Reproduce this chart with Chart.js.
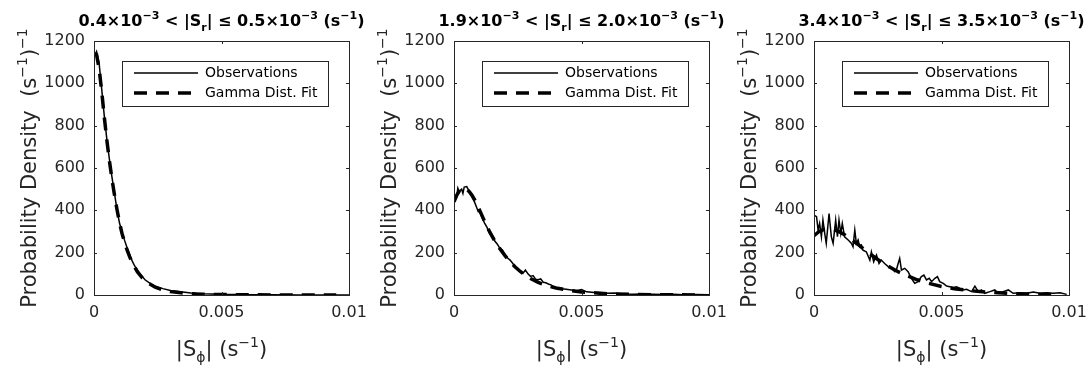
<!DOCTYPE html>
<html lang="en">
<head>
  <meta charset="UTF-8">
  <title>Probability density of |S_phi| in three |S_r| bins</title>
  <script src="https://cdn.jsdelivr.net/npm/chart.js"></script>
  <style>
    body { margin: 0; background: #fff; }
    #wrap { position: relative; width: 1091px; height: 374px; background: #fff; overflow: hidden; }
    #wrap canvas { position: absolute; top: 0; }
  </style>
</head>
<body>
  <div id="wrap">
    <canvas id="panel0" width="380" height="374" style="left:0px"></canvas>
    <canvas id="panel1" width="380" height="374" style="left:360px"></canvas>
    <canvas id="panel2" width="371" height="374" style="left:720px"></canvas>
  </div>

  <script>
    // bin limits for the panel titles (x10^-3 s^-1)
    const binLow = ['0.4', '1.9', '3.4'];
    const binHigh = ['0.5', '2.0', '3.5'];
    const seriesNames = ['Observations', 'Gamma Dist. Fit'];

    const xTicks = [0, 0.005, 0.01];
    const yTicks = [0, 200, 400, 600, 800, 1000, 1200];

    // panel 1
    const p1ObsX = [0, 0.0001, 0.0002, 0.0003, 0.0004, 0.0005, 0.0006, 0.0007, 0.0008, 0.0009, 0.001, 0.0011, 0.0012, 0.0013, 0.0014, 0.0015, 0.0016, 0.0017, 0.0018, 0.002, 0.0022, 0.0024, 0.0027, 0.003, 0.0034, 0.0038, 0.0043, 0.005, 0.006, 0.007, 0.008, 0.009, 0.01];
    const p1ObsY = [1125, 1150, 1095, 975, 850, 740, 645, 560, 482, 405, 340, 298, 258, 222, 190, 160, 136, 117, 100, 72, 55, 42, 30, 21, 15, 10, 6, 3, 1.5, 1, 0.5, 0.3, 0.2];
    const p1FitX = [0, 0.0001, 0.0002, 0.0003, 0.0004, 0.0005, 0.0006, 0.0007, 0.0008, 0.0009, 0.001, 0.0011, 0.0012, 0.0013, 0.0014, 0.0015, 0.0017, 0.0019, 0.0021, 0.0024, 0.0027, 0.003, 0.0035, 0.004, 0.005, 0.006, 0.007, 0.008, 0.0095];
    const p1FitY = [1140, 1135, 1070, 965, 845, 735, 638, 552, 475, 405, 342, 290, 248, 212, 180, 153, 110, 80, 58, 37, 24, 16, 9, 5, 2, 1, 0.5, 0.3, 0.1];

    // panel 2
    const p2ObsX = [0, 0.0001, 0.00015, 0.0002, 0.0003, 0.00035, 0.0004, 0.0005, 0.00055, 0.0006, 0.0007, 0.0008, 0.0009, 0.00095, 0.001,
      0.0011, 0.0012, 0.0013, 0.0014, 0.0015, 0.0016, 0.0017, 0.0018, 0.0019, 0.002, 0.0021, 0.0022, 0.0023, 0.0024, 0.0025,
      0.0026, 0.0027, 0.0028, 0.0029, 0.003, 0.0031, 0.0032, 0.0033, 0.0034, 0.0035, 0.0036, 0.0037, 0.0038, 0.0039, 0.004,
      0.0042, 0.0044, 0.0046, 0.0048, 0.005, 0.0052, 0.0055, 0.0058, 0.006, 0.0063, 0.0066, 0.007, 0.0074, 0.0078, 0.0082, 0.0086, 0.009, 0.0095, 0.01];
    const p2ObsY = [440, 460, 505, 490, 500, 480, 510, 512, 500, 488, 464, 441, 410, 394, 395,
      365, 340, 318, 290, 275, 255, 240, 220, 212, 190, 175, 165, 150, 132, 126,
      112, 102, 118, 100, 88, 92, 75, 72, 76, 60, 58, 52, 48, 40, 36,
      30, 27, 24, 20, 26, 15, 12, 10, 8, 9, 5, 4, 5, 3, 2, 3, 1, 2, 1];
    const p2FitX = [0, 0.0001, 0.0002, 0.0003, 0.0004, 0.0005, 0.0006, 0.0007, 0.0008, 0.001, 0.0012, 0.0014, 0.0016, 0.0018, 0.002, 0.0022, 0.0024, 0.0026, 0.0028, 0.003, 0.0033, 0.0036, 0.004, 0.0045, 0.005, 0.006, 0.007, 0.008, 0.0095];
    const p2FitY = [440, 470, 490, 502, 505, 500, 488, 472, 452, 402, 348, 298, 255, 218, 186, 157, 132, 111, 93, 78, 60, 46, 33, 22, 14, 6, 3, 1.2, 0.4];

    // panel 3
    const p3ObsX = [0, 0.0001, 0.00016, 0.00022, 0.00029, 0.00035, 0.00042, 0.00048, 0.00059, 0.00068,
      0.00075, 0.00085, 0.00092, 0.00098, 0.00105, 0.00111, 0.0012, 0.00134, 0.00147, 0.00153,
      0.0016, 0.00166, 0.00173, 0.00179, 0.00186, 0.00192, 0.00205, 0.00219, 0.00225, 0.00234,
      0.00245, 0.00255, 0.00264, 0.00277, 0.00291, 0.00304, 0.00317, 0.00323, 0.0033, 0.00336,
      0.00343, 0.00356, 0.00369, 0.00382, 0.00395, 0.00408, 0.00421, 0.00431, 0.00441, 0.00452,
      0.00461, 0.00474, 0.00484, 0.00493, 0.00507, 0.0052, 0.00533, 0.00546, 0.00559, 0.00572,
      0.00585, 0.00598, 0.00618, 0.00631, 0.00644, 0.00657, 0.0067, 0.0069, 0.00709, 0.00723,
      0.00742, 0.00762, 0.00781, 0.00808, 0.00834, 0.0086, 0.00886, 0.00912, 0.00938, 0.00965, 0.00991];
    const p3ObsY = [377, 370, 307, 338, 275, 354, 291, 244, 385, 275,
      244, 354, 275, 354, 291, 338, 275, 260, 244, 228,
      307, 244, 260, 228, 236, 212, 204, 165, 204, 157,
      189, 149, 165, 149, 134, 126, 110, 118, 149, 173,
      118, 126, 110, 79, 55, 63, 87, 94, 71, 79,
      63, 79, 87, 63, 55, 42, 39, 36, 39, 31,
      24, 27, 16, 42, 16, 24, 8, 16, 24, 8,
      16, 24, 8, 11, 8, 14, 8, 11, 8, 11, 3];
    const p3FitX = [0, 0.0002, 0.0004, 0.0006, 0.0008, 0.001, 0.0012, 0.0014, 0.0016, 0.0018, 0.002, 0.0022, 0.0024, 0.0026, 0.0028, 0.003, 0.0033, 0.0036, 0.004, 0.0045, 0.005, 0.0055, 0.006, 0.0065, 0.007, 0.008, 0.009, 0.0095];
    const p3FitY = [280, 300, 310, 312, 308, 298, 285, 268, 250, 232, 212, 194, 176, 160, 144, 130, 110, 94, 74, 55, 40, 30, 22, 16, 12, 6, 3, 2];

    const panels = [
      { obsX: p1ObsX, obsY: p1ObsY, fitX: p1FitX, fitY: p1FitY },
      { obsX: p2ObsX, obsY: p2ObsY, fitX: p2FitX, fitY: p2FitY },
      { obsX: p3ObsX, obsY: p3ObsY, fitX: p3FitX, fitY: p3FitY }
    ];

    const FONT = "'DejaVu Sans', sans-serif";
    const INK = '#262626';

    function toPoints(xs, ys) {
      return xs.map((x, i) => ({ x: x, y: ys[i] }));
    }

    // text with superscripts / subscripts: parts = [[text, ''|'sup'|'sub'], ...]
    function richFont(mode, size, weight) {
      const s = mode ? Math.round(size * 0.68) : size;
      return weight + ' ' + s + 'px ' + FONT;
    }
    function drawRich(ctx, parts, cx, baseY, size, weight) {
      let total = 0;
      parts.forEach(p => {
        ctx.font = richFont(p[1], size, weight);
        total += ctx.measureText(p[0]).width;
      });
      let x = cx - total / 2;
      ctx.textAlign = 'left';
      ctx.textBaseline = 'alphabetic';
      parts.forEach(p => {
        ctx.font = richFont(p[1], size, weight);
        let dy = 0;
        if (p[1] === 'sup') dy = -size * 0.45;
        if (p[1] === 'sub') dy = size * 0.3;
        ctx.fillText(p[0], x, baseY + dy);
        x += ctx.measureText(p[0]).width;
      });
    }

    const matlabFrame = {
      id: 'matlabFrame',
      afterDatasetsDraw(chart) {
        const { ctx, chartArea: a, scales } = chart;
        ctx.save();
        ctx.strokeStyle = INK;
        ctx.lineWidth = 1;
        ctx.strokeRect(Math.round(a.left) + 0.5, Math.round(a.top) + 0.5, Math.round(a.right - a.left), Math.round(a.bottom - a.top));
        ctx.beginPath();
        scales.y.ticks.forEach(t => {
          const py = Math.round(scales.y.getPixelForValue(t.value)) + 0.5;
          ctx.moveTo(a.left, py); ctx.lineTo(a.left + 3, py);
          ctx.moveTo(a.right, py); ctx.lineTo(a.right - 3, py);
        });
        scales.x.ticks.forEach(t => {
          const px = Math.round(scales.x.getPixelForValue(t.value)) + 0.5;
          ctx.moveTo(px, a.bottom); ctx.lineTo(px, a.bottom - 3);
          ctx.moveTo(px, a.top); ctx.lineTo(px, a.top + 3);
        });
        ctx.stroke();
        ctx.restore();
      },
      afterDraw(chart, args, opts) {
        const { ctx, chartArea: a } = chart;
        const cx = (a.left + a.right) / 2;
        ctx.save();
        ctx.fillStyle = '#000';

        // panel title
        const k = opts.panel;
        drawRich(ctx, [
          [binLow[k] + '×10', ''], ['−3', 'sup'], [' < |S', ''], ['r', 'sub'],
          ['| ≤ ' + binHigh[k] + '×10', ''], ['−3', 'sup'], [' (s', ''], ['−1', 'sup'], [')', '']
        ], cx, 26, 16, 'bold');

        // x axis title
        ctx.fillStyle = INK;
        drawRich(ctx, [['|S', ''], ['ϕ', 'sub'], ['| (s', ''], ['−1', 'sup'], [')', '']], cx, 356, 21, 'normal');

        // y axis title
        ctx.save();
        ctx.translate(a.left - 66, (a.top + a.bottom) / 2);
        ctx.rotate(-Math.PI / 2);
        drawRich(ctx, [['Probability Density  (s', ''], ['−1', 'sup'], [')', ''], ['−1', 'sup']], 0, 8, 21, 'normal');
        ctx.restore();

        // legend box
        const bx = a.left + 28, by = a.top + 20;
        ctx.fillStyle = '#fff';
        ctx.fillRect(bx, by, 206, 45);
        ctx.strokeStyle = INK;
        ctx.lineWidth = 1;
        ctx.strokeRect(Math.round(bx) + 0.5, Math.round(by) + 0.5, 206, 45);
        chart.data.datasets.forEach((ds, i) => {
          const ly = by + 12 + i * 20;
          ctx.beginPath();
          ctx.strokeStyle = '#000';
          ctx.lineWidth = ds.borderWidth;
          ctx.setLineDash(ds.borderDash || []);
          ctx.moveTo(bx + 12, ly);
          ctx.lineTo(bx + 76, ly);
          ctx.stroke();
          ctx.setLineDash([]);
          ctx.fillStyle = '#000';
          ctx.font = '14px ' + FONT;
          ctx.textAlign = 'left';
          ctx.textBaseline = 'middle';
          ctx.fillText(ds.label, bx + 83, ly);
        });
        ctx.restore();
      }
    };

    panels.forEach((p, k) => {
      const canvas = document.getElementById('panel' + k);
      new Chart(canvas.getContext('2d'), {
        type: 'line',
        data: {
          datasets: [
            {
              label: seriesNames[0],
              data: toPoints(p.obsX, p.obsY),
              borderColor: '#000',
              borderWidth: 1.5,
              pointRadius: 0,
              tension: 0
            },
            {
              label: seriesNames[1],
              data: toPoints(p.fitX, p.fitY),
              borderColor: '#000',
              borderWidth: 3.5,
              borderDash: [13, 9],
              pointRadius: 0,
              tension: 0
            }
          ]
        },
        options: {
          responsive: false,
          animation: false,
          layout: { padding: { top: 41, right: canvas.width - 349, left: 0, bottom: 0 } },
          scales: {
            x: {
              type: 'linear',
              min: 0,
              max: 0.01,
              afterFit: s => { s.height = 79; s.paddingLeft = 0; s.paddingRight = 0; },
              afterBuildTicks: s => { s.ticks = xTicks.map(v => ({ value: v })); },
              grid: { display: false, drawTicks: false },
              border: { display: false },
              ticks: {
                padding: 8,
                maxRotation: 0,
                autoSkip: false,
                color: INK,
                font: { family: FONT, size: 16 },
                callback: v => String(+v.toFixed(3))
              }
            },
            y: {
              type: 'linear',
              min: 0,
              max: 1200,
              afterFit: s => { s.width = 94; s.paddingTop = 0; s.paddingBottom = 0; },
              afterBuildTicks: s => { s.ticks = yTicks.map(v => ({ value: v })); },
              grid: { display: false, drawTicks: false },
              border: { display: false },
              ticks: {
                padding: 9,
                color: INK,
                font: { family: FONT, size: 16 },
                callback: v => String(v)
              }
            }
          },
          plugins: {
            legend: { display: false },
            tooltip: { enabled: false },
            matlabFrame: { panel: k }
          }
        },
        plugins: [matlabFrame]
      });
    });
  </script>
</body>
</html>
